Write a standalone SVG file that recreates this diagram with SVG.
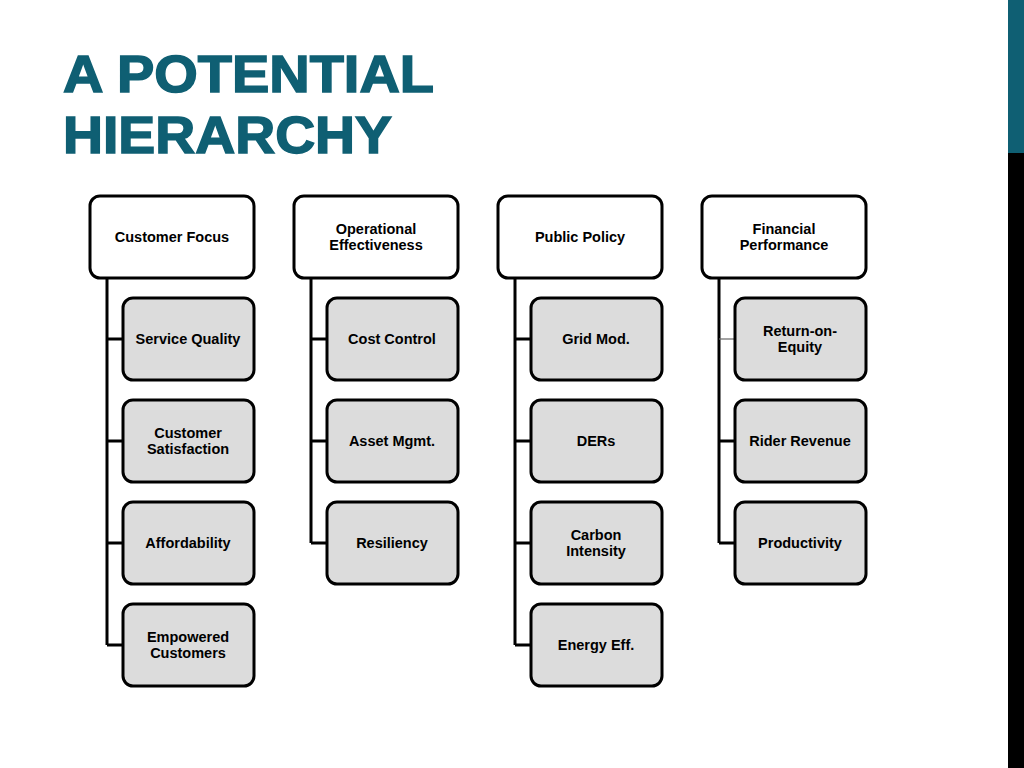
<svg xmlns="http://www.w3.org/2000/svg" width="1024" height="768" viewBox="0 0 1024 768">
<style>
.top{fill:#fff;stroke:#000;stroke-width:3}
.ch{fill:#dcdcdc;stroke:#000;stroke-width:3}
.t{font-family:"Liberation Sans",Arial,sans-serif;font-weight:bold;font-size:14.5px;text-anchor:middle;fill:#000}
.ttl{font-family:"Liberation Sans",Arial,sans-serif;font-weight:bold;font-size:52px;fill:#0f5f73;stroke:#0f5f73;stroke-width:1.5}
.c{stroke:#000;stroke-width:3;fill:none}
</style>
<rect width="1024" height="768" fill="#fff"/>
<rect x="1008" y="0" width="16" height="153" fill="#0f5f73"/>
<rect x="1008" y="153" width="16" height="615" fill="#000"/>
<text class="ttl" x="63" y="92" textLength="371" lengthAdjust="spacingAndGlyphs">A POTENTIAL</text>
<text class="ttl" x="63" y="153" textLength="329" lengthAdjust="spacingAndGlyphs">HIERARCHY</text>
<g id="connectors">
<path class="c" d="M107 278V645M107 339H123M107 441H123M107 543H123M107 645H123"/>
<path class="c" d="M311 278V543M311 339H327M311 441H327M311 543H327"/>
<path class="c" d="M515 278V645M515 339H531M515 441H531M515 543H531M515 645H531"/>
<path class="c" d="M719 278V543M719 441H735M719 543H735"/>
<path d="M719 339H735" stroke="#666" stroke-width="1.2"/>
</g>
<g id="customer-focus"><rect class="top" x="90" y="196" width="164" height="82" rx="10"/><text class="t" x="172" y="242">Customer Focus</text></g>
<g id="operational"><rect class="top" x="294" y="196" width="164" height="82" rx="10"/><text class="t" x="376" y="234">Operational</text><text class="t" x="376" y="250">Effectiveness</text></g>
<g id="public-policy"><rect class="top" x="498" y="196" width="164" height="82" rx="10"/><text class="t" x="580" y="242">Public Policy</text></g>
<g id="financial"><rect class="top" x="702" y="196" width="164" height="82" rx="10"/><text class="t" x="784" y="234">Financial</text><text class="t" x="784" y="250">Performance</text></g>

<g id="service-quality"><rect class="ch" x="123" y="298" width="131" height="82" rx="10"/><text class="t" x="188" y="344">Service Quality</text></g>
<g id="customer-satisfaction"><rect class="ch" x="123" y="400" width="131" height="82" rx="10"/><text class="t" x="188" y="438">Customer</text><text class="t" x="188" y="454">Satisfaction</text></g>
<g id="affordability"><rect class="ch" x="123" y="502" width="131" height="82" rx="10"/><text class="t" x="188" y="548">Affordability</text></g>
<g id="empowered"><rect class="ch" x="123" y="604" width="131" height="82" rx="10"/><text class="t" x="188" y="642">Empowered</text><text class="t" x="188" y="658">Customers</text></g>

<g id="cost-control"><rect class="ch" x="327" y="298" width="131" height="82" rx="10"/><text class="t" x="392" y="344">Cost Control</text></g>
<g id="asset-mgmt"><rect class="ch" x="327" y="400" width="131" height="82" rx="10"/><text class="t" x="392" y="446">Asset Mgmt.</text></g>
<g id="resiliency"><rect class="ch" x="327" y="502" width="131" height="82" rx="10"/><text class="t" x="392" y="548">Resiliency</text></g>

<g id="grid-mod"><rect class="ch" x="531" y="298" width="131" height="82" rx="10"/><text class="t" x="596" y="344">Grid Mod.</text></g>
<g id="ders"><rect class="ch" x="531" y="400" width="131" height="82" rx="10"/><text class="t" x="596" y="446">DERs</text></g>
<g id="carbon"><rect class="ch" x="531" y="502" width="131" height="82" rx="10"/><text class="t" x="596" y="540">Carbon</text><text class="t" x="596" y="556">Intensity</text></g>
<g id="energy-eff"><rect class="ch" x="531" y="604" width="131" height="82" rx="10"/><text class="t" x="596" y="650">Energy Eff.</text></g>

<g id="roe"><rect class="ch" x="735" y="298" width="131" height="82" rx="10"/><text class="t" x="800" y="336">Return-on-</text><text class="t" x="800" y="352">Equity</text></g>
<g id="rider-revenue"><rect class="ch" x="735" y="400" width="131" height="82" rx="10"/><text class="t" x="800" y="446">Rider Revenue</text></g>
<g id="productivity"><rect class="ch" x="735" y="502" width="131" height="82" rx="10"/><text class="t" x="800" y="548">Productivity</text></g>
</svg>
